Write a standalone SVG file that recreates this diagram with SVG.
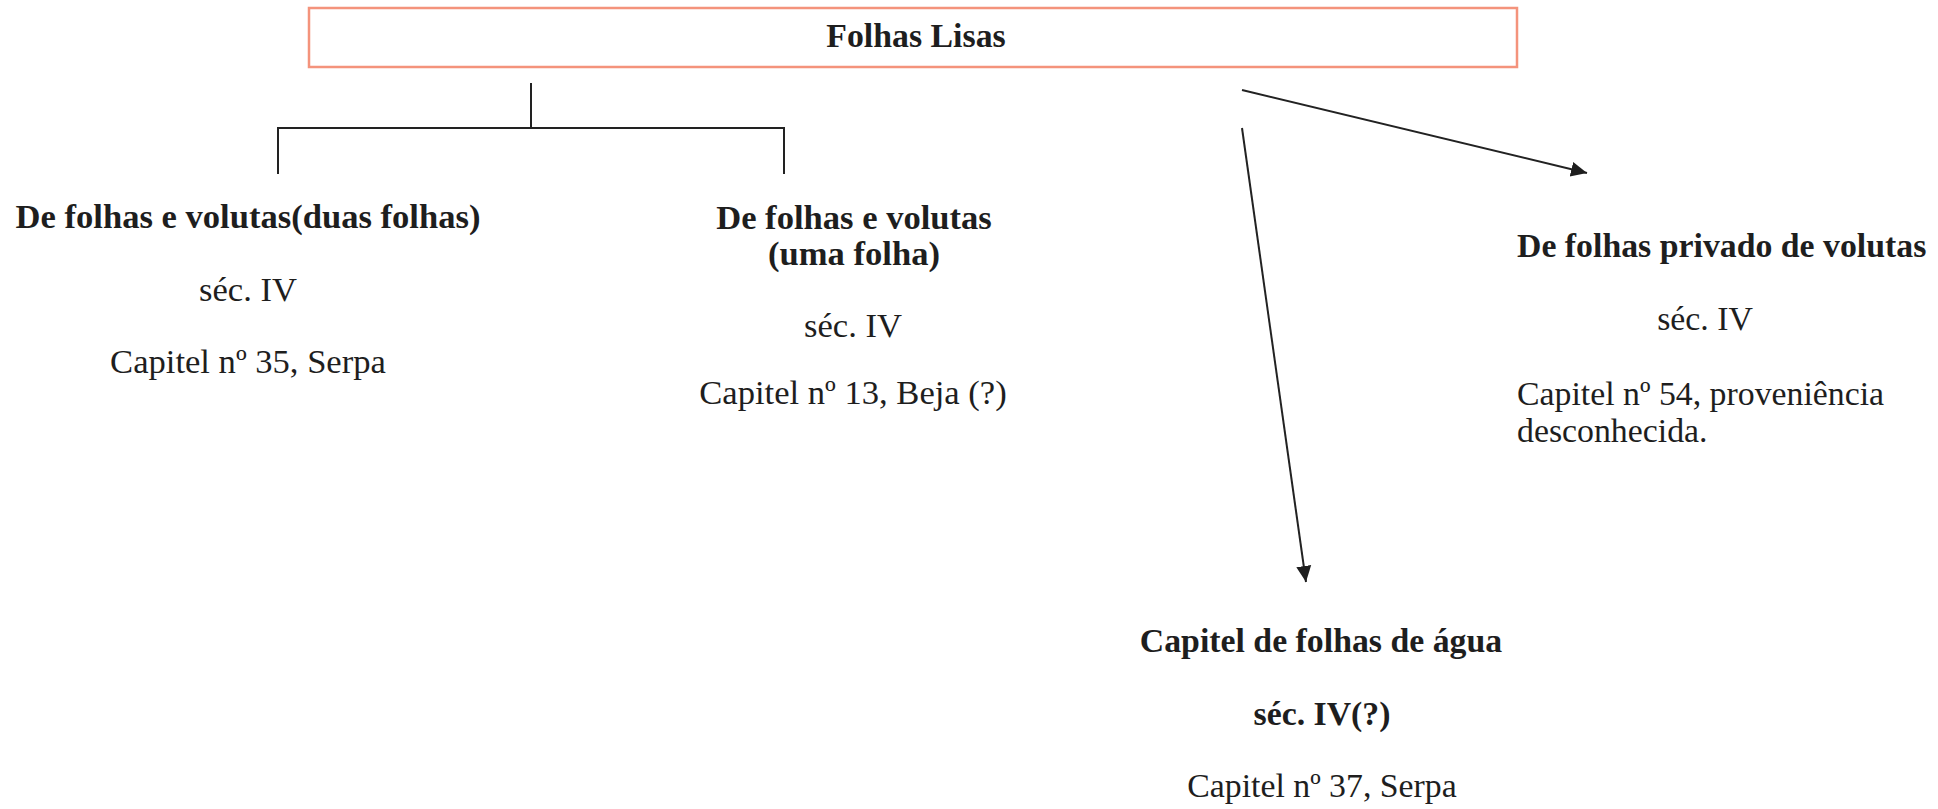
<svg xmlns="http://www.w3.org/2000/svg" width="1938" height="809" viewBox="0 0 1938 809">
<style>
  text { font-family: "Liberation Serif", "Times New Roman", serif; font-size: 33.8px; fill: #1e1e1e; }
  .b { font-weight: bold; }
  .c { text-anchor: middle; }
  .l { font-size: 34.6px; }
  .ln { stroke: #222; stroke-width: 2; fill: none; }
</style>
<defs>
  <marker id="arr" markerUnits="userSpaceOnUse" markerWidth="17" markerHeight="17" viewBox="0 0 17 17" refX="16" refY="8.5" orient="auto">
    <path d="M0,1 L16,8.5 L0,16 Z" fill="#1e1e1e"/>
  </marker>
</defs>
<rect width="1938" height="809" fill="#ffffff"/>
<g id="connectors">
  <path class="ln" d="M531,83 V128 M278,174 V128 H784 V174"/>
  <line class="ln" x1="1242" y1="90" x2="1587" y2="173" marker-end="url(#arr)"/>
  <line class="ln" x1="1242" y1="128" x2="1306" y2="582" marker-end="url(#arr)"/>
</g>
<g id="root">
  <rect x="309" y="8" width="1208" height="59" fill="#ffffff" stroke="#f4937c" stroke-width="2.5"/>
  <text class="b c" x="916" y="47">Folhas Lisas</text>
</g>
<g id="node-duas-folhas">
  <text class="b c l" x="248" y="228">De folhas e volutas(duas folhas)</text>
  <text class="c l" x="248" y="301">séc. IV</text>
  <text class="c l" x="248" y="373">Capitel nº 35, Serpa</text>
</g>
<g id="node-uma-folha">
  <text class="b c l" x="854" y="229">De folhas e volutas</text>
  <text class="b c l" x="854" y="265">(uma folha)</text>
  <text class="c l" x="853" y="337">séc. IV</text>
  <text class="c l" x="853" y="404">Capitel nº 13, Beja (?)</text>
</g>
<g id="node-privado">
  <text class="b" x="1517" y="257">De folhas privado de volutas</text>
  <text class="c" x="1705" y="330">séc. IV</text>
  <text x="1517" y="405">Capitel nº 54, proveniência</text>
  <text x="1517" y="442">desconhecida.</text>
</g>
<g id="node-agua">
  <text class="b c" x="1321" y="652">Capitel de folhas de água</text>
  <text class="b c" x="1322" y="725">séc. IV(?)</text>
  <text class="c" x="1322" y="797">Capitel nº 37, Serpa</text>
</g>
</svg>
